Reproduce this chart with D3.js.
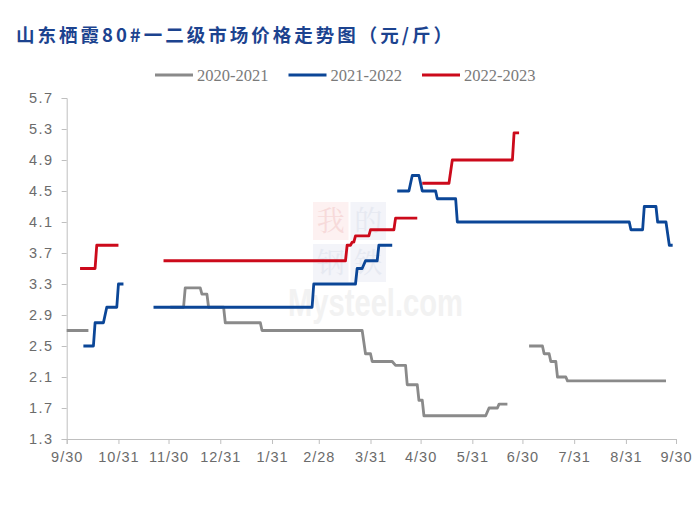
<!DOCTYPE html>
<html>
<head>
<meta charset="utf-8">
<script src="https://cdn.jsdelivr.net/npm/d3@7"></script>
<style>
  html, body { margin: 0; padding: 0; background: #fff; }
  svg { display: block; }
</style>
</head>
<body>
<svg id="chart" width="700" height="505"></svg>
<script>
// ---------------- DATA ----------------
const titleText = "山东栖霞80#一二级市场价格走势图（元/斤）";
const seriesNames = ["2020-2021", "2021-2022", "2022-2023"];
const seriesColors = ["#8a8a8a", "#0b4697", "#cc0a1b"];

// dates mapped onto one reference season (9/30 .. 9/30); null value = gap
const grayDates = ["2020-09-30","2020-10-13","2020-10-14",
  "2020-12-01","2020-12-09","2020-12-10","2020-12-19","2020-12-20","2020-12-23","2020-12-24",
  "2021-01-02","2021-01-03","2021-01-24","2021-01-25","2021-03-26","2021-03-28","2021-03-31",
  "2021-04-01","2021-04-13","2021-04-15","2021-04-21","2021-04-22","2021-04-28","2021-04-29",
  "2021-05-01","2021-05-02","2021-06-08","2021-06-10","2021-06-15","2021-06-16","2021-06-21",
  "2021-06-25",
  "2021-07-04","2021-07-12","2021-07-13","2021-07-16","2021-07-17","2021-07-20","2021-07-21",
  "2021-07-26","2021-07-27","2021-09-24"];
const grayValues = [2.7,2.7,null,
  3.0,3.0,3.25,3.25,3.17,3.17,3.0,
  3.0,2.8,2.8,2.7,2.7,2.4,2.4,
  2.3,2.3,2.25,2.25,2.0,2.0,1.8,
  1.8,1.6,1.6,1.7,1.7,1.75,1.75,
  null,
  2.5,2.5,2.4,2.4,2.3,2.3,2.1,
  2.1,2.05,2.05];

const blueDates = ["2020-10-10","2020-10-16","2020-10-17","2020-10-22","2020-10-24","2020-10-30",
  "2020-10-31","2020-11-03","2020-11-10",
  "2020-11-21","2021-02-24","2021-02-25","2021-03-22","2021-03-23","2021-03-26","2021-03-28",
  "2021-04-04","2021-04-05","2021-04-13","2021-04-14",
  "2021-04-16","2021-04-23","2021-04-25","2021-04-29","2021-05-01","2021-05-09","2021-05-10",
  "2021-05-21","2021-05-22","2021-09-02","2021-09-03","2021-09-10","2021-09-11","2021-09-18",
  "2021-09-19","2021-09-24","2021-09-26","2021-09-28"];
const blueValues = [2.5,2.5,2.8,2.8,3.0,3.0,
  3.3,3.3,null,
  3.0,3.0,3.3,3.3,3.5,3.5,3.6,
  3.6,3.8,3.8,null,
  4.5,4.5,4.7,4.7,4.5,4.5,4.4,
  4.4,4.1,4.1,4.0,4.0,4.3,4.3,
  4.1,4.1,3.8,3.8];

const redDates = ["2020-10-08","2020-10-17","2020-10-18","2020-10-31","2020-11-10",
  "2020-11-27","2021-03-16","2021-03-17","2021-03-19","2021-03-20","2021-03-21","2021-03-22",
  "2021-03-30","2021-03-31","2021-04-14","2021-04-15","2021-04-28","2021-04-30",
  "2021-05-01","2021-05-17","2021-05-19","2021-06-24","2021-06-25","2021-06-28"];
const redValues = [3.5,3.5,3.8,3.8,null,
  3.6,3.6,3.8,3.8,3.84,3.84,3.92,
  3.92,4.0,4.0,4.15,4.15,null,
  4.6,4.6,4.9,4.9,5.25,5.25];

const yTicks = [1.3,1.7,2.1,2.5,2.9,3.3,3.7,4.1,4.5,4.9,5.3,5.7];
const xTickDates = ["2020-09-30","2020-10-31","2020-11-30","2020-12-31","2021-01-31","2021-02-28",
  "2021-03-31","2021-04-30","2021-05-31","2021-06-30","2021-07-31","2021-08-31","2021-09-30"];
const xTickLabels = ["9/30","10/31","11/30","12/31","1/31","2/28","3/31","4/30","5/31","6/30","7/31","8/31","9/30"];

// ---------------- CHART ----------------
const parse = d3.utcParse("%Y-%m-%d");
const svg = d3.select("#chart");
svg.append("rect").attr("width",700).attr("height",505).attr("fill","#fff");

const x = d3.scaleUtc().domain([parse("2020-09-30"), parse("2021-09-30")]).range([66.7, 676]);
const y = d3.scaleLinear().domain([1.3, 5.7]).range([439, 98]);

// watermark (faint)
const wm = svg.append("g").attr("class","watermark");
const wmChars = ["我","的","钢","铁"];
const wmBg = ["#fdf1f1","#f3f4f9","#f3f4f9","#f3f4f9"];
const wmFg = ["#f7dada","#e6e9f1","#e6e9f1","#e6e9f1"];
wmChars.forEach((c,i)=>{
  const cx = 313 + (i%2)*37.5, cy = 202 + Math.floor(i/2)*42;
  wm.append("rect").attr("x",cx).attr("y",cy).attr("width",35.5).attr("height",38).attr("fill",wmBg[i]);
  wm.append("text").attr("x",cx+17.75).attr("y",cy+29).attr("text-anchor","middle")
    .attr("font-family","'Noto Serif CJK SC','Noto Sans CJK SC'").attr("font-size",28)
    .attr("fill",wmFg[i]).text(c);
});
wm.append("text").attr("x",288).attr("y",316).attr("font-family","Arial, 'Liberation Sans'")
  .attr("font-weight","bold").attr("font-size",38).attr("fill","#f2f2f2")
  .attr("textLength",175).attr("lengthAdjust","spacingAndGlyphs").text("Mysteel.com");

// axes
const yAxis = d3.axisLeft(y).tickValues(yTicks).tickSize(5).tickPadding(8).tickFormat(d3.format(".1f"));
const gy = svg.append("g").attr("transform","translate(66.7,0)").call(yAxis);
gy.select(".domain").attr("stroke","#bfbfbf");
gy.selectAll(".tick line").attr("stroke","#bfbfbf");
gy.selectAll(".tick text").attr("fill","#6b6b6b").attr("font-size",14.5)
  .attr("font-family","'Liberation Sans', Arial").attr("letter-spacing","1.5px");

const xAxis = d3.axisBottom(x).tickValues(xTickDates.map(parse)).tickSize(5).tickPadding(8)
  .tickFormat((d,i)=>xTickLabels[i]);
const gx = svg.append("g").attr("transform","translate(0,439)").call(xAxis);
gx.select(".domain").attr("stroke","#bfbfbf");
gx.selectAll(".tick line").attr("stroke","#bfbfbf");
gx.selectAll(".tick text").attr("fill","#6b6b6b").attr("font-size",14.5)
  .attr("font-family","'Liberation Sans', Arial").attr("letter-spacing","1px");

// lines
const line = d3.line().defined(d=>d.v!=null).x(d=>x(d.d)).y(d=>y(d.v));
const series = [
  grayDates.map((d,i)=>({d:parse(d), v:grayValues[i]})),
  blueDates.map((d,i)=>({d:parse(d), v:blueValues[i]})),
  redDates.map((d,i)=>({d:parse(d), v:redValues[i]}))
];
series.forEach((s,i)=>{
  svg.append("path").datum(s).attr("d",line).attr("fill","none")
    .attr("stroke",seriesColors[i]).attr("stroke-width",2.8)
    .attr("stroke-linejoin","round").attr("stroke-linecap","butt");
});

// title
svg.append("text").attr("x",16).attr("y",42).attr("font-family","'Noto Sans CJK SC'")
  .attr("font-weight","bold").attr("font-size",18.5).attr("letter-spacing","3px")
  .attr("fill","#1c438f").text(titleText);

// legend
const lg = svg.append("g");
seriesNames.forEach((n,i)=>{
  const lx = 155 + i*133.5;
  lg.append("line").attr("x1",lx).attr("x2",lx+38).attr("y1",75).attr("y2",75)
    .attr("stroke",seriesColors[i]).attr("stroke-width",3);
  lg.append("text").attr("x",lx+42).attr("y",80.5).attr("font-family","'Liberation Serif','Times New Roman'")
    .attr("font-size",16.5).attr("fill","#7a7a7a").text(n);
});
</script>
</body>
</html>
